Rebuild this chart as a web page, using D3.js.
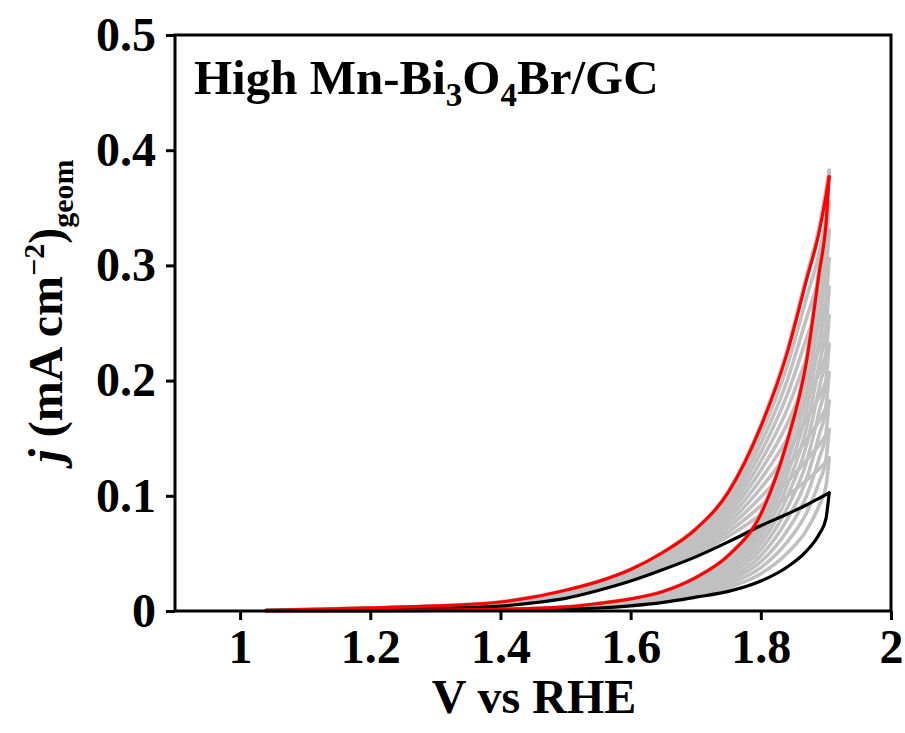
<!DOCTYPE html>
<html><head><meta charset="utf-8">
<script src="https://cdn.jsdelivr.net/npm/d3@7"></script>
<style>
body{margin:0;background:#fff;}
text{font-family:"Liberation Serif","Times New Roman",serif;font-weight:bold;fill:#000;}
</style></head>
<body><svg id="c" width="905" height="733"></svg>
<script>
// ---- data (V vs RHE, j in mA cm^-2) ----
const vGrid = [1.04,1.2,1.3,1.4,1.45,1.5,1.55,1.6,1.65,1.7,1.75,1.8,1.84,1.87,1.89,1.9,1.905];
const redUp   = [0.0004,0.0027,0.0044,0.0078,0.012,0.018,0.0255,0.036,0.051,0.071,0.103,0.16,0.223,0.287,0.33,0.36,0.377];
const redDown = [0.0003,0.0005,0.0008,0.0015,0.0022,0.0035,0.0065,0.0105,0.017,0.029,0.048,0.084,0.146,0.216,0.295,0.335,0.377];
const blackUp   = [0.0006,0.0014,0.0025,0.0043,0.007,0.011,0.0178,0.026,0.036,0.047,0.060,0.074,0.084,0.092,0.098,0.101,0.1026];
const blackDown = [0.0002,0.0003,0.0005,0.0009,0.0012,0.0016,0.0026,0.0045,0.0075,0.012,0.017,0.026,0.038,0.052,0.067,0.08,0.1026];
const grayUp = [
 [0.0004,0.0027,0.0044,0.0079,0.0121,0.0181,0.0257,0.0362,0.0513,0.0715,0.1039,0.1617,0.2258,0.2909,0.3346,0.3652,0.3825],
 [0.0004,0.0026,0.0042,0.0075,0.0116,0.0174,0.0249,0.0352,0.0498,0.0691,0.0996,0.1531,0.2119,0.2714,0.3114,0.3393,0.355],
 [0.0004,0.0025,0.0041,0.0072,0.0112,0.0168,0.0242,0.0343,0.0485,0.0669,0.0957,0.1454,0.1994,0.2539,0.2906,0.316,0.3304],
 [0.0005,0.0024,0.0039,0.0069,0.0107,0.0162,0.0235,0.0334,0.0471,0.0648,0.0918,0.1376,0.1869,0.2363,0.2697,0.2927,0.3057],
 [0.0005,0.0022,0.0037,0.0066,0.0103,0.0156,0.0228,0.0325,0.0458,0.0626,0.088,0.1299,0.1744,0.2188,0.2488,0.2694,0.281],
 [0.0005,0.0021,0.0036,0.0063,0.0098,0.0149,0.0221,0.0316,0.0444,0.0604,0.0841,0.1222,0.1618,0.2012,0.2279,0.246,0.2563],
 [0.0005,0.002,0.0034,0.0059,0.0094,0.0143,0.0214,0.0307,0.0431,0.0583,0.0802,0.1144,0.1493,0.1837,0.207,0.2227,0.2316],
 [0.0005,0.0019,0.0032,0.0056,0.0089,0.0137,0.0207,0.0298,0.0417,0.0561,0.0763,0.1067,0.1368,0.1661,0.1862,0.1994,0.2069],
 [0.0005,0.0018,0.0031,0.0053,0.0085,0.013,0.02,0.0289,0.0404,0.054,0.0725,0.0989,0.1243,0.1486,0.1653,0.1761,0.1822],
 [0.0006,0.0017,0.0029,0.005,0.008,0.0124,0.0193,0.028,0.039,0.0518,0.0686,0.0912,0.1118,0.131,0.1444,0.1528,0.1575],
 [0.0006,0.0015,0.0027,0.0047,0.0076,0.0118,0.0186,0.0271,0.0377,0.0496,0.0647,0.0835,0.0993,0.1135,0.1235,0.1295,0.1328]
];
const grayDown = [
 [0.0003,0.0005,0.0008,0.0015,0.0022,0.0035,0.0066,0.0106,0.0172,0.0293,0.0486,0.0852,0.1482,0.2193,0.2996,0.3401,0.3825],
 [0.0003,0.0005,0.0008,0.0015,0.0021,0.0033,0.0062,0.01,0.0162,0.0276,0.0455,0.0794,0.1374,0.2029,0.2768,0.3146,0.355],
 [0.0003,0.0005,0.0007,0.0014,0.002,0.0032,0.0058,0.0095,0.0154,0.0261,0.0427,0.0741,0.1276,0.1881,0.2562,0.2917,0.3304],
 [0.0003,0.0004,0.0007,0.0013,0.0019,0.003,0.0055,0.0089,0.0145,0.0246,0.0399,0.0689,0.1179,0.1734,0.2357,0.2687,0.3057],
 [0.0003,0.0004,0.0007,0.0013,0.0019,0.0028,0.0051,0.0084,0.0137,0.0231,0.0372,0.0637,0.1082,0.1586,0.2152,0.2458,0.281],
 [0.0003,0.0004,0.0007,0.0012,0.0018,0.0027,0.0048,0.0079,0.0128,0.0215,0.0344,0.0585,0.0985,0.1438,0.1947,0.2228,0.2563],
 [0.0002,0.0004,0.0006,0.0012,0.0017,0.0025,0.0044,0.0073,0.012,0.02,0.0316,0.0533,0.0888,0.1291,0.1742,0.1999,0.2316],
 [0.0002,0.0004,0.0006,0.0011,0.0016,0.0023,0.0041,0.0068,0.0111,0.0185,0.0288,0.048,0.079,0.1143,0.1536,0.1769,0.2069],
 [0.0002,0.0004,0.0006,0.0011,0.0015,0.0022,0.0037,0.0062,0.0103,0.0169,0.026,0.0428,0.0693,0.0996,0.1331,0.154,0.1822],
 [0.0002,0.0003,0.0006,0.001,0.0014,0.002,0.0034,0.0057,0.0094,0.0154,0.0232,0.0376,0.0596,0.0848,0.1126,0.131,0.1575],
 [0.0002,0.0003,0.0005,0.001,0.0013,0.0018,0.003,0.0052,0.0085,0.0139,0.0204,0.0324,0.0499,0.07,0.0921,0.1081,0.1328]
];
const xTicks = [1,1.2,1.4,1.6,1.8,2];
const xTickLabels = ["1","1.2","1.4","1.6","1.8","2"];
const yTicks = [0,0.1,0.2,0.3,0.4,0.5];
const yTickLabels = ["0","0.1","0.2","0.3","0.4","0.5"];

// ---- layout ----
const L=175, R=891, T=35, B=611;
const svg = d3.select("#c");
const x = d3.scaleLinear().domain([0.9,2]).range([L,R]);
const y = d3.scaleLinear().domain([0,0.5]).range([B,T]);
const line = d3.line().x((d,i)=>x(vGrid[i])).y(d=>y(d)).curve(d3.curveMonotoneX);

const g = svg.append("g");
function branch(arr,color,w){
  g.append("path").attr("d",line(arr)).attr("fill","none").attr("stroke",color)
   .attr("stroke-width",w).attr("stroke-linejoin","round").attr("stroke-linecap","round");
}
grayUp.forEach((c,i)=>{branch(c,"#c0c0c0",3.6);branch(grayDown[i],"#c0c0c0",3.6);});
branch(blackUp,"#000",3.2); branch(blackDown,"#000",3.2);
branch(redUp,"#ff0000",3.2); branch(redDown,"#ff0000",3.2);

// axes
const FS = "48px";
const xAxis = d3.axisBottom(x).tickValues(xTicks).tickFormat((d,i)=>xTickLabels[i]).tickSize(9).tickPadding(9);
const yAxis = d3.axisLeft(y).tickValues(yTicks).tickFormat((d,i)=>yTickLabels[i]).tickSize(9).tickPadding(10);
const ax = svg.append("g").attr("transform",`translate(0,${B})`).call(xAxis);
const ay = svg.append("g").attr("transform",`translate(${L},0)`).call(yAxis);
[ax,ay].forEach(a=>{
  a.select(".domain").remove();
  a.selectAll(".tick line").attr("stroke","#000").attr("stroke-width",3);
  a.selectAll(".tick text").style("font-family","'Liberation Serif',serif").style("font-weight","bold").style("font-size",FS).attr("fill","#000");
});
svg.append("rect").attr("x",L).attr("y",T).attr("width",R-L).attr("height",B-T)
  .attr("fill","none").attr("stroke","#000").attr("stroke-width",3);

// title inside plot
const tt = svg.append("text").attr("x",194).attr("y",94).style("font-size","49px");
tt.append("tspan").text("High Mn-Bi");
tt.append("tspan").text("3").attr("dy",12).style("font-size","33px");
tt.append("tspan").text("O").attr("dy",-12);
tt.append("tspan").text("4").attr("dy",12).style("font-size","33px");
tt.append("tspan").text("Br/GC").attr("dy",-12);

// x label
svg.append("text").attr("x",534).attr("y",713).attr("text-anchor","middle").style("font-size",FS).text("V vs RHE");

// y label
const yl = svg.append("text").attr("transform",`translate(62,311) rotate(-90)`).attr("text-anchor","middle").style("font-size",FS);
yl.append("tspan").text("j").style("font-style","italic");
yl.append("tspan").text(" (mA cm");
yl.append("tspan").text("−2").attr("dy",-18).style("font-size","30px");
yl.append("tspan").text(")").attr("dy",18);
yl.append("tspan").text("geom").attr("dy",11).style("font-size","30px");
</script></body></html>
